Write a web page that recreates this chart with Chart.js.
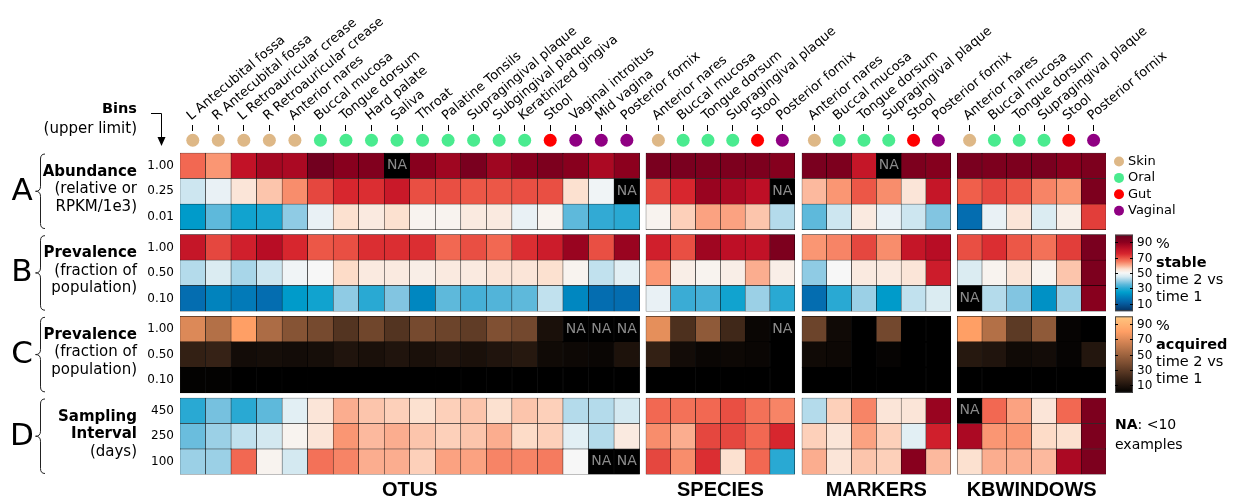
<!DOCTYPE html>
<html>
<head>
<meta charset="utf-8">
<script src="https://cdn.jsdelivr.net/npm/chart.js@4.4.1/dist/chart.umd.min.js"></script>
<style>
  html, body { margin: 0; padding: 0; background: #fff; }
  canvas { display: block; }
</style>
</head>
<body>
<canvas id="heat" width="1244" height="498"></canvas>
<script>
// sites (columns) of each panel
const otusSites = ['L Antecubital fossa', 'R Antecubital fossa', 'L Retroauricular crease', 'R Retroauricular crease',
  'Anterior nares', 'Buccal mucosa', 'Tongue dorsum', 'Hard palate', 'Saliva', 'Throat', 'Palatine Tonsils',
  'Supragingival plaque', 'Subgingival plaque', 'Keratinized gingiva', 'Stool', 'Vaginal introitus', 'Mid vagina',
  'Posterior fornix']
const otusBody = ['skin', 'skin', 'skin', 'skin', 'skin', 'oral', 'oral', 'oral', 'oral', 'oral', 'oral', 'oral',
  'oral', 'oral', 'gut', 'vaginal', 'vaginal', 'vaginal']
const sharedSites = ['Anterior nares', 'Buccal mucosa', 'Tongue dorsum', 'Supragingival plaque', 'Stool', 'Posterior fornix']
const sharedBody = ['skin', 'oral', 'oral', 'oral', 'gut', 'vaginal']
const panelNames = ['OTUS', 'SPECIES', 'MARKERS', 'KBWINDOWS']

// row bins of each block (A..D)
const groupLetters = ['A', 'B', 'C', 'D']
const groupBins = [['1.00', '0.25', '0.01'], ['1.00', '0.50', '0.10'], ['1.00', '0.50', '0.10'], ['450', '250', '100']]
const groupText = [
  ['Abundance', '(relative or', 'RPKM/1e3)'],
  ['Prevalence', '(fraction of', 'population)'],
  ['Prevalence', '(fraction of', 'population)'],
  ['Sampling', 'Interval', '(days)']
]
const colorbarTicks = [10, 30, 50, 70, 90]

// % stable / % acquired, null = NA (<10 examples)
const otusAbundance = [
  [67, 62, 81, 86, 85, 97, 91, 93, null, 91, 87, 95, 87, 91, 94, 91, 85, 90],
  [44, 48, 54, 58, 63, 71, 75, 74, 79, 70, 70, 69, 69, 70, 70, 55, 49, null],
  [24, 35, 27, 28, 39, 48, 55, 53, 55, 51, 51, 53, 53, 48, 51, 35, 31, 30]
]
const otusPrevStable = [
  [80, 71, 77, 83, 75, 69, 70, 74, 74, 74, 67, 70, 67, 74, 78, 88, 70, 88],
  [42, 46, 41, 44, 49, 50, 56, 53, 53, 52, 53, 53, 54, 54, 55, 51, 43, 47],
  [14, 19, 17, 14, 24, 27, 39, 30, 38, 20, 35, 33, 34, 35, 43, 20, 14, 14]
]
const otusPrevAcquired = [
  [69, 56, 80, 54, 42, 37, 26, 35, 26, 37, 34, 30, 40, 36, 8, null, null, null],
  [16, 17, 6, 7, 6, 7, 10, 8, 10, 8, 10, 8, 10, 12, 5, 4, 3, 9],
  [1, 1, 0, 0, 0, 0, 0, 0, 0, 0, 0, 0, 0, 0, 0, 0, 0, 0]
]
const otusInterval = [
  [30, 37, 30, 35, 47, 54, 60, 58, 57, 55, 57, 58, 55, 58, 57, 42, 42, 45],
  [36, 40, 43, 45, 51, 54, 62, 59, 60, 58, 57, 58, 60, 56, 57, 47, 42, 53],
  [40, 40, 67, 51, 45, 66, 64, 60, 60, 57, 61, 61, 64, 64, 65, 50, null, null]
]

const speciesAbundance = [[95, 95, 94, 94, 94, 92], [71, 75, 88, 85, 82, null], [51, 57, 61, 61, 58, 42]]
const speciesPrevStable = [[77, 70, 87, 82, 81, 94], [62, 52, 51, 52, 60, 52], [48, 32, 33, 27, 40, 30]]
const speciesPrevAcquired = [[72, 24, 45, 20, 3, null], [16, 6, 3, 4, 3, 0], [0, 0, 0, 0, 0, 0]]
const speciesInterval = [[67, 66, 67, 70, 66, 64], [63, 60, 71, 71, 67, 75], [71, 63, 74, 55, 67, 30]]

const markersAbundance = [[95, 94, 80, null, 94, 92], [59, 62, 69, 63, 54, 80], [35, 44, 53, 48, 44, 38]]
const markersPrevStable = [[62, 64, 71, 63, 80, 83], [39, 50, 53, 53, 54, 78], [14, 30, 40, 24, 43, 46]]
const markersPrevAcquired = [[34, 5, 0, 36, 0, 0], [5, 4, 0, 2, 0, 0], [0, 0, 0, 0, 0, 0]]
const markersInterval = [[42, 57, 64, 54, 54, 88], [57, 54, 61, 57, 47, 77], [60, 54, 58, 57, 91, 59]]

const kbAbundance = [[95, 94, 94, 95, 91, 94], [68, 71, 69, 64, 62, 94], [14, 48, 54, 46, 52, 72]]
const kbPrevStable = [[70, 74, 69, 66, 72, 95], [46, 51, 54, 51, 58, 94], [null, 42, 38, 22, 40, 91]]
const kbPrevAcquired = [[80, 56, 29, 45, 2, 0], [12, 10, 5, 6, 2, 11], [0, 0, 0, 0, 0, 0]]
const kbInterval = [[null, 67, 61, 54, 67, 94], [85, 62, 62, 56, 55, 94], [55, 60, 60, 59, 85, 94]]

// layout in cell units
const PANEL_START = [0, 18.25, 24.36, 30.44]
const PANEL_CELL = [1, 0.971, 0.971, 0.971]
const GROUP_GAP = 0.2
const X_MAX = 36.266
const Y_MIN = -0.863
const Y_MAX = 4 * 3 + 3 * GROUP_GAP
const DOT_ROW = -0.5

const FONT = '"DejaVu Sans", sans-serif'
const BODY_COLORS = { skin: '#deb887', oral: '#4aeb8f', gut: '#ff0000', vaginal: '#8f0082' }
const LEGEND = [['Skin', 'skin'], ['Oral', 'oral'], ['Gut', 'gut'], ['Vaginal', 'vaginal']]

const stableStops = [
  [0, [5, 48, 97]], [12, [5, 100, 170]], [20, [0, 135, 192]], [25, [0, 160, 205]], [32, [58, 172, 213]],
  [38, [130, 197, 225]], [44, [205, 230, 240]], [50, [247, 247, 247]], [56, [253, 220, 200]],
  [62, [250, 150, 115]], [68, [240, 95, 75]], [75, [215, 38, 46]], [82, [190, 15, 38]],
  [90, [140, 0, 30]], [100, [103, 0, 31]]
]

function stableColor (v) {
  v = Math.max(0, Math.min(100, v))
  for (let i = 1; i < stableStops.length; i++) {
    if (v <= stableStops[i][0]) {
      const [a, ca] = stableStops[i - 1]
      const [b, cb] = stableStops[i]
      const t = (v - a) / (b - a)
      return 'rgb(' + ca.map((c, k) => Math.round(c + (cb[k] - c) * t)).join(',') + ')'
    }
  }
  return 'rgb(103,0,31)'
}

function copperColor (v) {
  const t = Math.max(0, Math.min(100, v)) / 100
  return 'rgb(' + Math.round(Math.min(1, 1.25 * t) * 255) + ',' + Math.round(0.7812 * t * 255) + ',' +
    Math.round(0.4975 * t * 255) + ')'
}

const panels = [
  { sites: otusSites, body: otusBody, groups: [otusAbundance, otusPrevStable, otusPrevAcquired, otusInterval] },
  { sites: sharedSites, body: sharedBody, groups: [speciesAbundance, speciesPrevStable, speciesPrevAcquired, speciesInterval] },
  { sites: sharedSites, body: sharedBody, groups: [markersAbundance, markersPrevStable, markersPrevAcquired, markersInterval] },
  { sites: sharedSites, body: sharedBody, groups: [kbAbundance, kbPrevStable, kbPrevAcquired, kbInterval] }
]

const groupTop = g => g * (3 + GROUP_GAP)

const columns = []
panels.forEach((p, pi) => p.sites.forEach((site, j) => {
  const x0 = PANEL_START[pi] + j * PANEL_CELL[pi]
  columns.push({ label: site, body: p.body[j], x0, x1: x0 + PANEL_CELL[pi] })
}))

const rowCenters = []
const rowLabels = []
groupBins.forEach((bins, g) => bins.forEach((b, r) => {
  rowCenters.push(groupTop(g) + r + 0.5)
  rowLabels.push(b)
}))

const heatDatasets = groupLetters.map((letter, g) => {
  const data = []
  panels.forEach((p, pi) => p.groups[g].forEach((rowVals, r) => rowVals.forEach((v, j) => {
    const x0 = PANEL_START[pi] + j * PANEL_CELL[pi]
    data.push({ x: [x0, x0 + PANEL_CELL[pi]], y: groupTop(g) + r + 0.5, v })
  })))
  const cmap = g === 2 ? copperColor : stableColor
  return {
    type: 'bar',
    label: letter,
    data,
    backgroundColor: c => (c.raw && c.raw.v !== null ? cmap(c.raw.v) : '#000'),
    borderColor: '#000',
    borderWidth: 0.5,
    borderSkipped: false,
    grouped: false,
    categoryPercentage: 1,
    barPercentage: 1
  }
})

const dotDataset = {
  type: 'scatter',
  label: 'body site',
  data: columns.map(c => ({ x: (c.x0 + c.x1) / 2, y: DOT_ROW })),
  pointBackgroundColor: columns.map(c => BODY_COLORS[c.body]),
  pointBorderWidth: 0,
  pointRadius: 6.5,
  showLine: false
}

function drawBrace (ctx, top, bottom) {
  const mid = (top + bottom) / 2
  const sx = 40.5
  ctx.beginPath()
  ctx.moveTo(45, top)
  ctx.quadraticCurveTo(sx, top, sx, top + 5)
  ctx.lineTo(sx, mid - 5)
  ctx.quadraticCurveTo(sx, mid, 35.5, mid)
  ctx.quadraticCurveTo(sx, mid, sx, mid + 5)
  ctx.lineTo(sx, bottom - 5)
  ctx.quadraticCurveTo(sx, bottom, 45, bottom)
  ctx.stroke()
}

function drawColorbar (ctx, top, bottom, cmap, label) {
  const left = 1115
  const w = 18
  const grad = ctx.createLinearGradient(0, bottom, 0, top)
  for (let v = 0; v <= 100; v += 5) grad.addColorStop(v / 100, cmap(v))
  ctx.fillStyle = grad
  ctx.fillRect(left, top, w, bottom - top)
  ctx.strokeStyle = '#444'
  ctx.lineWidth = 1
  ctx.strokeRect(left + 0.5, top + 0.5, w - 1, bottom - top - 1)
  ctx.strokeStyle = '#000'
  ctx.fillStyle = '#000'
  ctx.font = '12px ' + FONT
  ctx.textAlign = 'left'
  ctx.textBaseline = 'middle'
  colorbarTicks.forEach(t => {
    const ty = Math.round(bottom - (bottom - top) * t / 100) + 0.5
    ctx.beginPath()
    ctx.moveTo(left, ty); ctx.lineTo(left + 3, ty)
    ctx.moveTo(left + w - 3, ty); ctx.lineTo(left + w, ty)
    ctx.stroke()
    ctx.fillText(String(t), 1137, ty)
  })
  ctx.font = '14.5px ' + FONT
  ctx.fillText('%', 1156, top + 10)
  ctx.font = 'bold 14.5px ' + FONT
  ctx.fillText(label, 1156, top + 29)
  ctx.font = '14.5px ' + FONT
  ctx.fillText('time 2 vs', 1156, top + 46)
  ctx.fillText('time 1', 1156, top + 63)
}

const annotate = {
  id: 'annotate',
  afterDatasetsDraw (chart) {
    const { ctx, scales: { x, y } } = chart
    ctx.save()
    ctx.font = '14px ' + FONT
    ctx.fillStyle = '#8a8a8a'
    ctx.textAlign = 'center'
    ctx.textBaseline = 'middle'
    heatDatasets.forEach(ds => ds.data.forEach(d => {
      if (d.v !== null) return
      ctx.fillText('NA', x.getPixelForValue((d.x[0] + d.x[1]) / 2), y.getPixelForValue(d.y))
    }))
    ctx.restore()
  },
  afterDraw (chart) {
    const { ctx, scales: { x, y } } = chart
    ctx.save()
    ctx.fillStyle = '#000'
    ctx.strokeStyle = '#222'
    ctx.lineWidth = 1

    // block letters, braces and descriptions
    groupLetters.forEach((letter, g) => {
      const top = y.getPixelForValue(groupTop(g))
      const bottom = y.getPixelForValue(groupTop(g) + 3)
      const mid = (top + bottom) / 2
      ctx.font = '31px ' + FONT
      ctx.textAlign = 'center'
      ctx.textBaseline = 'alphabetic'
      ctx.fillText(letter, 22, mid + 8.5)
      drawBrace(ctx, top + 1, bottom - 1)
      ctx.textAlign = 'right'
      ctx.textBaseline = 'middle'
      groupText[g].forEach((line, i) => {
        const bold = i === 0 || (g === 3 && i === 1)
        ctx.font = (bold ? 'bold ' : '') + '15px ' + FONT
        ctx.fillText(line, 137, mid - 2 + (i - 1) * 17.5)
      })
    })

    // bins header and arrow
    ctx.textAlign = 'right'
    ctx.textBaseline = 'middle'
    ctx.font = 'bold 14.5px ' + FONT
    ctx.fillText('Bins', 137, 109)
    ctx.font = '15px ' + FONT
    ctx.fillText('(upper limit)', 137, 129)
    ctx.strokeStyle = '#000'
    ctx.beginPath()
    ctx.moveTo(151, 113.5)
    ctx.lineTo(161.5, 113.5)
    ctx.lineTo(161.5, 140)
    ctx.stroke()
    ctx.beginPath()
    ctx.moveTo(157.5, 137)
    ctx.lineTo(165.5, 137)
    ctx.lineTo(161.5, 146)
    ctx.closePath()
    ctx.fill()

    // body site legend
    ctx.textAlign = 'left'
    ctx.font = '13px ' + FONT
    LEGEND.forEach(([name, key], i) => {
      const ly = 161.5 + i * 16.4
      ctx.fillStyle = BODY_COLORS[key]
      ctx.beginPath()
      ctx.arc(1119, ly, 5, 0, Math.PI * 2)
      ctx.fill()
      ctx.fillStyle = '#000'
      ctx.fillText(name, 1128, ly)
    })

    // colour bars next to blocks B and C
    drawColorbar(ctx, y.getPixelForValue(groupTop(1)), y.getPixelForValue(groupTop(1) + 3), stableColor, 'stable')
    drawColorbar(ctx, y.getPixelForValue(groupTop(2)), y.getPixelForValue(groupTop(2) + 3), copperColor, 'acquired')

    // NA note
    ctx.fillStyle = '#000'
    ctx.textAlign = 'left'
    ctx.textBaseline = 'middle'
    ctx.font = 'bold 14px ' + FONT
    ctx.fillText('NA', 1115, 425)
    const naW = ctx.measureText('NA').width
    ctx.font = '14px ' + FONT
    ctx.fillText(': <10', 1115 + naW, 425)
    ctx.fillText('examples', 1115, 445)

    // panel titles
    ctx.font = 'bold 20px "Liberation Sans Narrow", "Arial Narrow", sans-serif'
    ctx.textAlign = 'center'
    ctx.textBaseline = 'alphabetic'
    panelNames.forEach((name, pi) => {
      const n = panels[pi].sites.length
      const cx = x.getPixelForValue(PANEL_START[pi] + n * PANEL_CELL[pi] / 2)
      ctx.fillText(name, cx, 496)
    })
    ctx.restore()
  }
}

Chart.defaults.font.family = FONT
Chart.defaults.color = '#000'

new Chart(document.getElementById('heat'), {
  type: 'bar',
  data: { datasets: [...heatDatasets, dotDataset] },
  options: {
    indexAxis: 'y',
    responsive: false,
    animation: false,
    events: [],
    layout: { padding: { left: 120, right: 138, top: 0, bottom: 23.5 } },
    plugins: { legend: { display: false }, tooltip: { enabled: false } },
    scales: {
      x: {
        type: 'linear',
        position: 'top',
        min: 0,
        max: X_MAX,
        offset: false,
        afterBuildTicks: s => { s.ticks = columns.map(c => ({ value: (c.x0 + c.x1) / 2 })) },
        afterFit: s => { s.height = 131; s.paddingLeft = 0; s.paddingRight = 0; s.paddingTop = 0; s.paddingBottom = 0 },
        ticks: {
          autoSkip: false,
          minRotation: 40,
          maxRotation: 40,
          labelOffset: 6,
          padding: 1,
          color: '#000',
          font: { size: 13, family: FONT },
          callback: (v, i) => columns[i] ? columns[i].label : ''
        },
        grid: { drawOnChartArea: false, drawTicks: true, tickLength: 6, color: '#000', tickColor: '#000', offset: false },
        border: { display: false }
      },
      y: {
        type: 'linear',
        reverse: true,
        min: Y_MIN,
        max: Y_MAX,
        offset: false,
        afterBuildTicks: s => { s.ticks = rowCenters.map(v => ({ value: v })) },
        afterFit: s => { s.width = 60; s.paddingTop = 0; s.paddingBottom = 0 },
        ticks: {
          autoSkip: false,
          padding: 6,
          color: '#000',
          font: { size: 12, family: FONT },
          callback: (v, i) => rowLabels[i]
        },
        grid: { display: false, drawTicks: false, offset: false },
        border: { display: false }
      }
    }
  },
  plugins: [annotate]
})
</script>
</body>
</html>
